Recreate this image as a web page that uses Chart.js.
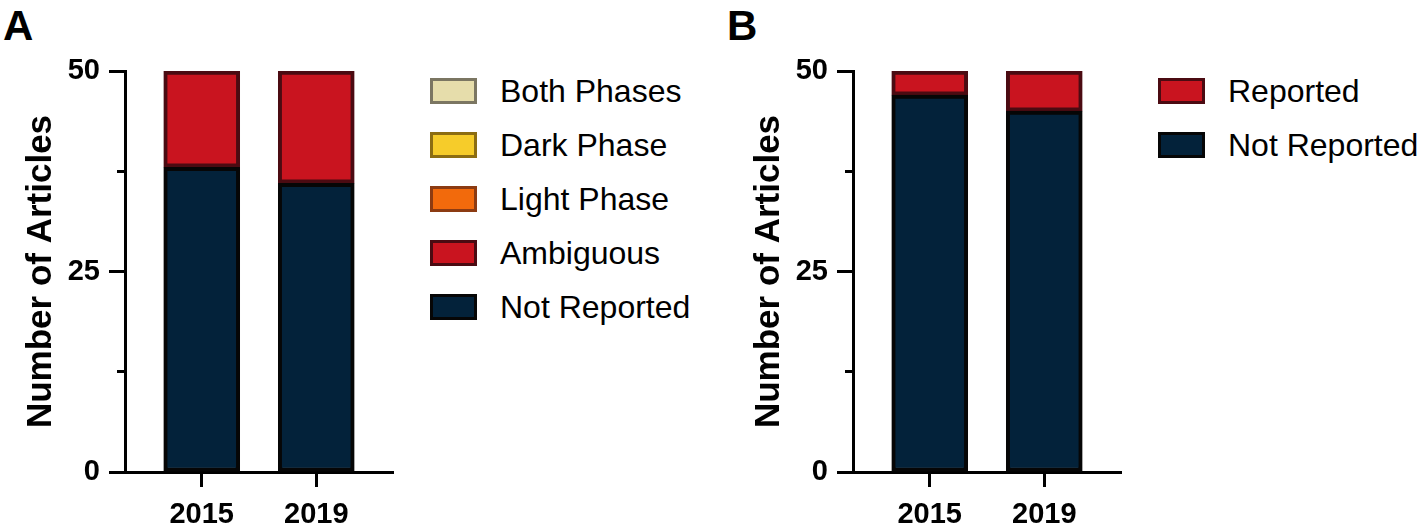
<!DOCTYPE html>
<html>
<head>
<meta charset="utf-8">
<script src="https://cdn.jsdelivr.net/npm/chart.js"></script>
<style>
  body { margin: 0; background: #fff; width: 1424px; height: 524px; overflow: hidden; position: relative; font-family: 'Liberation Sans', Arial, Helvetica, sans-serif; }
  .panel-label { position: absolute; top: 5px; font-size: 42px; font-weight: bold; line-height: 1; color: #000; }
  canvas { position: absolute; top: 0; }
  .legend { position: absolute; top: 64px; }
  .legend-item { display: flex; align-items: center; height: 54px; }
  .legend-box { width: 47px; height: 26px; box-sizing: border-box; border: 3px solid #000; margin-right: 23px; }
  .legend-text { font-size: 32px; color: #000; line-height: 26px; }
</style>
</head>
<body>
<div class="panel-label" style="left:3px">A</div>
<div class="panel-label" style="left:727px">B</div>
<canvas id="chartA" width="420" height="524" style="left:0px"></canvas>
<canvas id="chartB" width="420" height="524" style="left:728px"></canvas>
<div class="legend" id="legendA" style="left:430px"></div>
<div class="legend" id="legendB" style="left:1158px"></div>

<script>
var years = ['2015', '2019']

// panel A: light phase reporting
var notReportedA = [38, 36]
var ambiguousA = [12, 14]
var lightPhaseA = [0, 0]
var darkPhaseA = [0, 0]
var bothPhasesA = [0, 0]

// panel B
var notReportedB = [47, 45]
var reportedB = [3, 5]

var yMax = 50
var yStep = 12.5
var labelEvery = 25

var fontFamily = "'Liberation Sans', Arial, Helvetica, sans-serif"

function series(label, values, fill, border) {
    return {
        label: label,
        data: values.map(function(v, i) { return { x: i, y: v } }),
        backgroundColor: fill,
        borderColor: border,
        borderWidth: 4,
        borderSkipped: false,
        barThickness: 76
    }
}

function makeChart(id, datasets) {
    var ctx = document.getElementById(id).getContext('2d')
    return new Chart(ctx, {
        type: 'bar',
        data: { datasets: datasets },
        options: {
            responsive: false,
            animation: false,
            layout: { padding: { top: 71, right: 27, left: 0, bottom: 0 } },
            plugins: { legend: { display: false }, tooltip: { enabled: false } },
            scales: {
                x: {
                    type: 'linear',
                    stacked: true,
                    offset: false,
                    min: -0.67,
                    max: years.length - 1 + 0.67,
                    afterFit: function(scale) { scale.height = 52 },
                    ticks: {
                        stepSize: 1,
                        includeBounds: false,
                        autoSkip: false,
                        callback: function(v) { return years[v] },
                        color: '#000',
                        padding: 11,
                        maxRotation: 0,
                        font: { family: fontFamily, size: 29, weight: 'bold' }
                    },
                    grid: { offset: false, drawOnChartArea: false, tickLength: 15, tickWidth: 3, tickColor: '#000' },
                    border: { width: 3, color: '#000' }
                },
                y: {
                    stacked: true,
                    min: 0,
                    max: yMax,
                    afterFit: function(scale) { scale.width = 125 },
                    ticks: {
                        stepSize: yStep,
                        callback: function(v) { return v % labelEvery === 0 ? v : '' },
                        color: '#000',
                        padding: 9,
                        font: { family: fontFamily, size: 29, weight: 'bold' }
                    },
                    grid: {
                        drawOnChartArea: false,
                        tickLength: 16,
                        tickWidth: 3,
                        tickColor: '#000',
                        // minor ticks only keep the 8px next to the axis
                        tickBorderDash: function(c) {
                            return (c.tick && c.tick.value % labelEvery !== 0) ? [0, 8, 9, 100] : []
                        }
                    },
                    border: { width: 3, color: '#000' },
                    title: {
                        display: true,
                        text: 'Number of Articles',
                        color: '#000',
                        padding: { top: 20, bottom: 0 },
                        font: { family: fontFamily, size: 35, weight: 'bold' }
                    }
                }
            }
        }
    })
}

function makeLegend(id, datasets) {
    var box = document.getElementById(id)
    datasets.slice().reverse().forEach(function(ds) {
        var item = document.createElement('div')
        item.className = 'legend-item'
        item.innerHTML = '<div class="legend-box" style="background:' + ds.backgroundColor +
            ';border-color:' + ds.borderColor + '"></div><span class="legend-text">' + ds.label + '</span>'
        box.appendChild(item)
    })
}

var datasetsA = [
    series('Not Reported', notReportedA, '#03223A', '#060606'),
    series('Ambiguous', ambiguousA, '#C9141F', '#4B0B12'),
    series('Light Phase', lightPhaseA, '#F26A0C', '#8C3B12'),
    series('Dark Phase', darkPhaseA, '#F6CC2A', '#8C6D12'),
    series('Both Phases', bothPhasesA, '#E6DDAB', '#7B7662')
]

var datasetsB = [
    series('Not Reported', notReportedB, '#03223A', '#060606'),
    series('Reported', reportedB, '#C9141F', '#4B0B12')
]

makeChart('chartA', datasetsA)
makeChart('chartB', datasetsB)
makeLegend('legendA', datasetsA)
makeLegend('legendB', datasetsB)
</script>
</body>
</html>
